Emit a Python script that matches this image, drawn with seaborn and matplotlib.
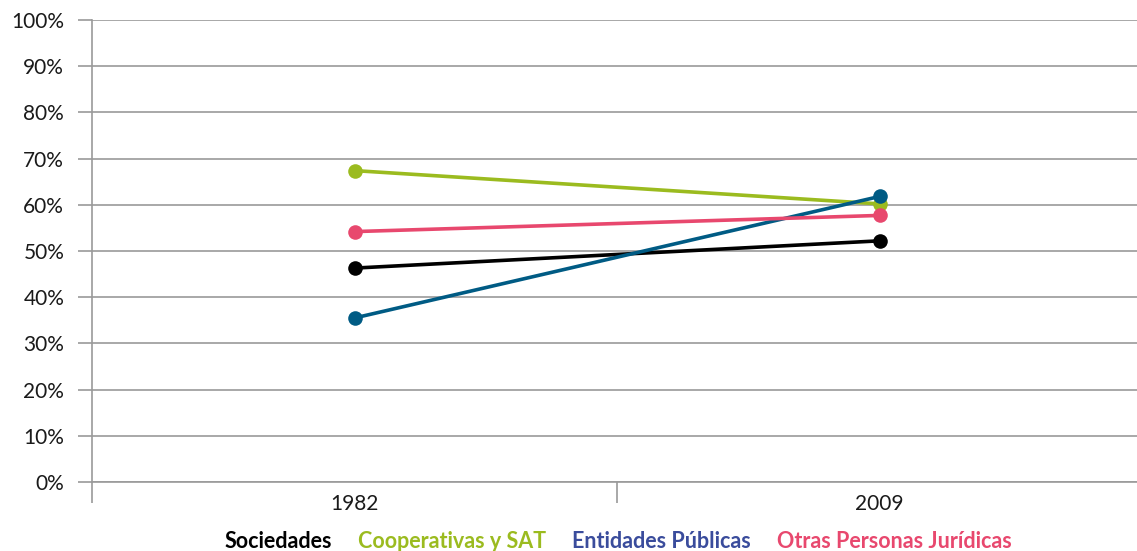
import matplotlib
matplotlib.use("Agg")
import matplotlib.pyplot as plt
import seaborn as sns
import pandas as pd
from matplotlib.ticker import FixedLocator, PercentFormatter
from matplotlib.lines import Line2D

years = ["1982", "2009"]
series_names = ["Sociedades", "Cooperativas y SAT", "Entidades Públicas", "Otras Personas Jurídicas"]
sociedades = [46.3, 52.2]
cooperativas = [67.4, 60.2]
entidades = [35.5, 61.8]
otras = [54.2, 57.7]

line_colors = ["#000000", "#9BBB1F", "#005B84", "#E8486E"]
legend_colors = ["#000000", "#9BBB1F", "#3A4C9C", "#E8486E"]

rows = []
for name, vals in zip(series_names, [sociedades, cooperativas, entidades, otras]):
    for y, v in zip(years, vals):
        rows.append({"year": y, "value": v, "serie": name})
df = pd.DataFrame(rows)

sns.set_theme(style="white")
plt.rcParams["font.family"] = ["Lato", "DejaVu Sans"]

W, H = 1137, 551
fig = plt.figure(figsize=(W / 100, H / 100), dpi=100)
ax = fig.add_axes([92 / W, 1 - 482 / H, (1142 - 92) / W, (482 - 20) / H])

sns.lineplot(data=df, x="year", y="value", hue="serie", hue_order=series_names,
             palette=line_colors, marker="o", markersize=10.5, markeredgewidth=0,
             linewidth=2.6, ax=ax, legend=False, sort=False)

ax.set_xlim(-0.5, 1.5)
ax.set_ylim(0, 100)
ax.set_yticks(range(0, 101, 10))
ax.yaxis.set_major_formatter(PercentFormatter(decimals=0))
ax.grid(axis="y", color="#9A9A9A", linewidth=1.2)
ax.set_axisbelow(True)
for s in ["top", "right"]:
    ax.spines[s].set_visible(False)
for s in ["left", "bottom"]:
    ax.spines[s].set_color("#9A9A9A")
    ax.spines[s].set_linewidth(1.2)

ax.tick_params(axis="y", direction="out", length=10, width=1.2, color="#9A9A9A",
               labelsize=15, labelcolor="#1a1a1a", pad=10, left=True)
ax.xaxis.set_minor_locator(FixedLocator([-0.5, 0.5, 1.5]))
ax.tick_params(axis="x", which="major", length=0, labelsize=15, labelcolor="#1a1a1a", pad=9)
ax.tick_params(axis="x", which="minor", direction="out", length=15, width=1.2,
               color="#9A9A9A", bottom=True)
ax.set_xlabel("")
ax.set_ylabel("")

handles = [Line2D([], [], linestyle="none") for _ in series_names]
leg = fig.legend(handles, series_names, loc="center", bbox_to_anchor=(618 / W, 1 - 541 / H),
                 ncol=4, frameon=False, handlelength=0, handletextpad=0, columnspacing=1.2,
                 prop={"weight": "bold", "size": 15.5})
for t, c in zip(leg.get_texts(), legend_colors):
    t.set_color(c)

fig.savefig("out.png", dpi=100)
